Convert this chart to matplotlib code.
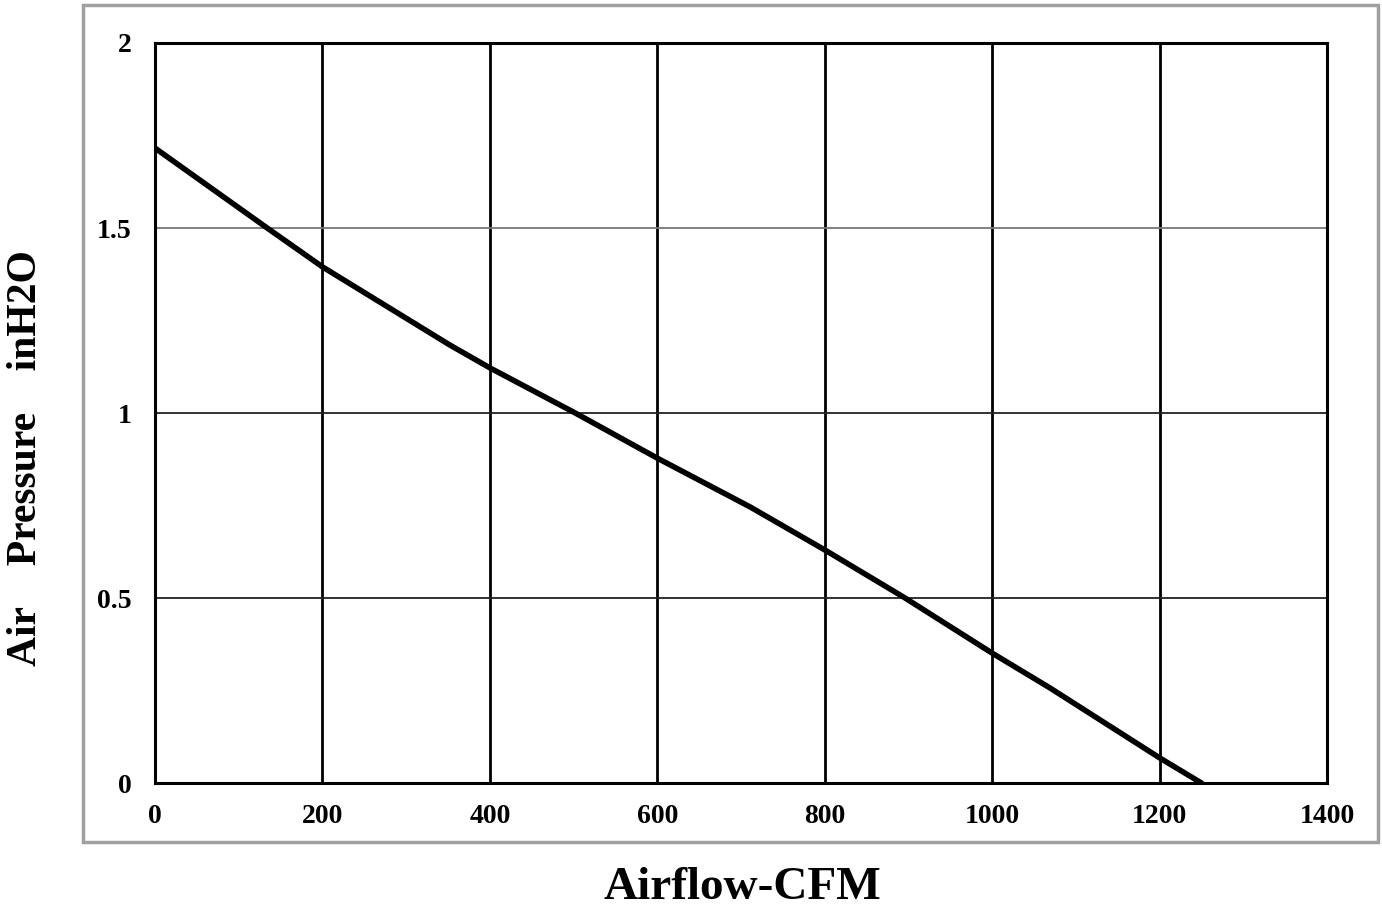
import matplotlib.pyplot as plt
from matplotlib.patches import Rectangle

# fan curve
airflow = [0, 134, 200, 352, 400, 502, 600, 711, 800, 896, 1000, 1069, 1200, 1250]
pressure = [1.716, 1.50, 1.395, 1.184, 1.122, 1.0, 0.878, 0.746, 0.63, 0.50, 0.351, 0.257, 0.068, 0.0]

x_ticks = [0, 200, 400, 600, 800, 1000, 1200, 1400]
y_ticks = [0, 0.5, 1, 1.5, 2]
y_tick_labels = ['0', '0.5', '1', '1.5', '2']

plt.rcParams['font.family'] = ['Liberation Serif', 'DejaVu Serif']
plt.rcParams['font.weight'] = 'bold'

W, H = 1382, 921
fig = plt.figure(figsize=(W / 100, H / 100), dpi=100)
ax = fig.add_axes([155 / W, 1 - 783 / H, (1327 - 155) / W, (783 - 43) / H])

ax.set_xlim(0, 1400)
ax.set_ylim(0, 2)
ax.set_xticks(x_ticks)
ax.set_yticks(y_ticks)
ax.set_yticklabels(y_tick_labels)
ax.tick_params(length=0, labelsize=20)
for lab in ax.get_xticklabels() + ax.get_yticklabels():
    lab.set_fontweight('bold')
ax.tick_params(axis='y', pad=17)
ax.tick_params(axis='x', pad=15)

for xv in x_ticks[1:-1]:
    ax.axvline(xv, color='black', lw=2, zorder=1)
for yv, c in [(0.5, '#222222'), (1, '#222222'), (1.5, '#777777')]:
    ax.axhline(yv, color=c, lw=1.3, zorder=1)

for s in ax.spines.values():
    s.set_linewidth(2.2)

ax.plot(airflow, pressure, color='black', lw=4, solid_capstyle='round', zorder=3)

fig.text(742 / W, 1 - 888 / H, 'Airflow-CFM', fontsize=34, fontweight='bold',
         ha='center', va='center')
fig.text(26 / W, 1 - 458 / H, 'Air    Pressure    inH2O', rotation=90,
         fontsize=30, fontweight='bold', ha='center', va='center')

fig.patches.append(Rectangle((83 / W, 1 - 842 / H), (1378 - 83) / W, (842 - 5) / H,
                             transform=fig.transFigure, fill=False,
                             edgecolor='#a0a0a0', lw=2.5))

fig.savefig('out.png', dpi=100)
